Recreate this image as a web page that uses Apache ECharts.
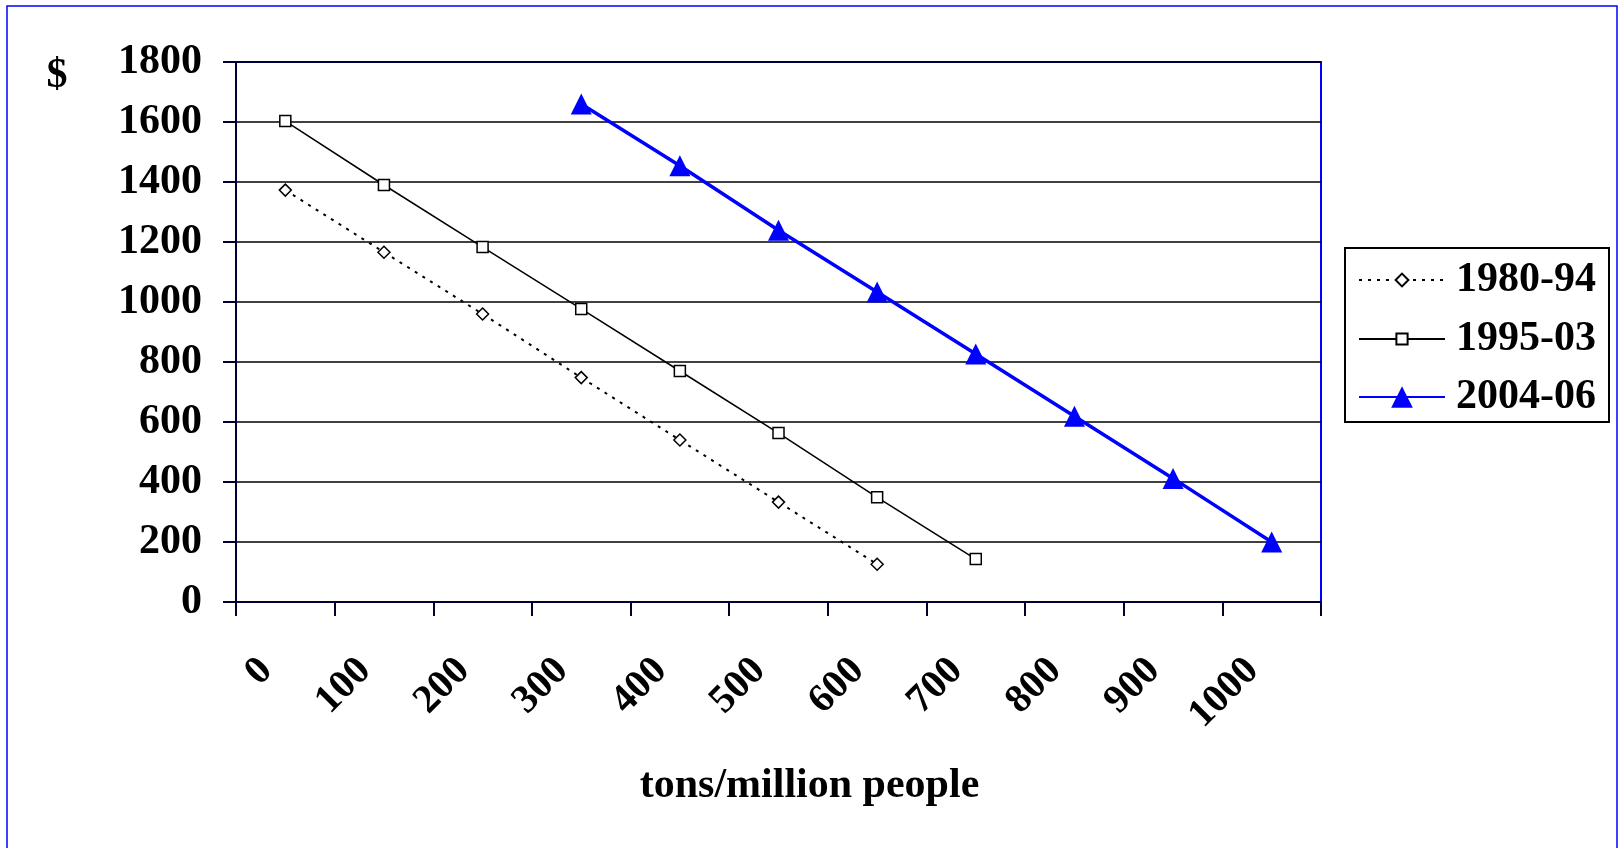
<!DOCTYPE html>
<html>
<head>
<meta charset="utf-8">
<title>Price vs tons per million people</title>
<script src="https://cdn.jsdelivr.net/npm/echarts@6/dist/echarts.min.js"></script>
<style>
  html, body { margin: 0; padding: 0; background: #ffffff; }
  #chart { width: 1618px; height: 848px; }
</style>
</head>
<body>
<div id="chart"></div>
<script>
// Category axis: tons per million people
const categories = ['0', '100', '200', '300', '400', '500', '600', '700', '800', '900', '1000'];

// Price ($) by period
const series1980 = [1373, 1166, 960, 748, 540, 333, 126];
const series1995 = [1603, 1390, 1183, 977, 770, 563, 349, 143];
const series2004 = [null, null, null, 1660, 1454, 1239, 1033, 827, 619, 412, 200];

const seriesNames = ['1980-94', '1995-03', '2004-06'];

const FONT = "'Liberation Serif', 'Times New Roman', serif";
const BLUE = '#0000ff';
const AXIS = '#000033';

const chart = echarts.init(document.getElementById('chart'), null, { renderer: 'canvas' });

// One legend per series so each icon keeps its own marker size
function legendFor(name, top, iconHeight) {
  return {
    data: [name],
    left: 1358,
    top: top,
    padding: 0,
    itemWidth: 86,
    itemHeight: iconHeight,
    selectedMode: false,
    textStyle: {
      fontFamily: FONT,
      fontWeight: 'bold',
      fontSize: 42,
      lineHeight: 44,
      color: '#000',
      padding: [0, 0, 0, 6]
    }
  };
}

const option = {
  animation: false,
  backgroundColor: '#ffffff',
  grid: {
    left: 236,
    top: 62,
    right: 297,
    bottom: 246,
    show: true,
    borderColor: BLUE,
    borderWidth: 2,
    backgroundColor: 'transparent'
  },
  legend: [
    legendFor(seriesNames[0], 258, 16),
    legendFor(seriesNames[1], 317, 14),
    legendFor(seriesNames[2], 375, 27)
  ],
  graphic: [
    {
      type: 'rect',
      shape: { x: 7, y: 6, width: 1610, height: 860 },
      style: { fill: 'none', stroke: BLUE, lineWidth: 1.5 },
      silent: true
    },
    {
      type: 'rect',
      shape: { x: 1345, y: 248, width: 264, height: 174 },
      style: { fill: 'none', stroke: '#000', lineWidth: 2 },
      silent: true
    },
    {
      type: 'text',
      x: 57,
      y: 76,
      style: {
        text: '$',
        font: "bold 42px 'Liberation Serif', 'Times New Roman', serif",
        fill: '#000',
        align: 'center',
        verticalAlign: 'middle'
      },
      silent: true
    }
  ],
  xAxis: {
    type: 'category',
    data: categories,
    boundaryGap: true,
    name: 'tons/million people',
    nameLocation: 'middle',
    nameGap: 163,
    nameTextStyle: {
      fontFamily: FONT,
      fontWeight: 'bold',
      fontSize: 42,
      color: '#000',
      padding: [0, 0, 0, 62]
    },
    axisLine: { show: true, onZero: false, lineStyle: { color: AXIS, width: 2 } },
    axisTick: { show: true, inside: false, length: 14, lineStyle: { color: AXIS, width: 2 } },
    axisLabel: {
      interval: 0,
      rotate: 45,
      margin: 82,
      verticalAlign: 'bottom',
      lineHeight: 54,
      fontFamily: FONT,
      fontWeight: 'bold',
      fontSize: 40,
      color: '#000'
    },
    splitLine: { show: false }
  },
  yAxis: {
    type: 'value',
    min: 0,
    max: 1800,
    interval: 200,
    axisLine: { show: true, lineStyle: { color: AXIS, width: 2 } },
    axisTick: { show: true, inside: false, length: 13, lineStyle: { color: AXIS, width: 2 } },
    axisLabel: {
      margin: 34,
      formatter: function (v) { return String(v); },
      fontFamily: FONT,
      fontWeight: 'bold',
      fontSize: 42,
      color: '#000'
    },
    splitLine: { show: true, lineStyle: { color: '#000', width: 1.5 } }
  },
  series: [
    {
      name: seriesNames[0],
      type: 'line',
      data: series1980,
      symbol: 'diamond',
      symbolSize: 12,
      showAllSymbol: true,
      lineStyle: { color: '#000', width: 2, type: [3, 6] },
      itemStyle: { color: '#ffffff', borderColor: '#000', borderWidth: 1.5 },
      z: 3
    },
    {
      name: seriesNames[1],
      type: 'line',
      data: series1995,
      symbol: 'rect',
      symbolSize: 11,
      showAllSymbol: true,
      lineStyle: { color: '#000', width: 1.5, type: 'solid' },
      itemStyle: { color: '#ffffff', borderColor: '#000', borderWidth: 1.5 },
      z: 3
    },
    {
      name: seriesNames[2],
      type: 'line',
      data: series2004,
      symbol: 'triangle',
      symbolSize: 21,
      showAllSymbol: true,
      lineStyle: { color: BLUE, width: 3.5, type: 'solid' },
      itemStyle: { color: BLUE, borderWidth: 0 },
      z: 4
    }
  ]
};

chart.setOption(option);
</script>
</body>
</html>
